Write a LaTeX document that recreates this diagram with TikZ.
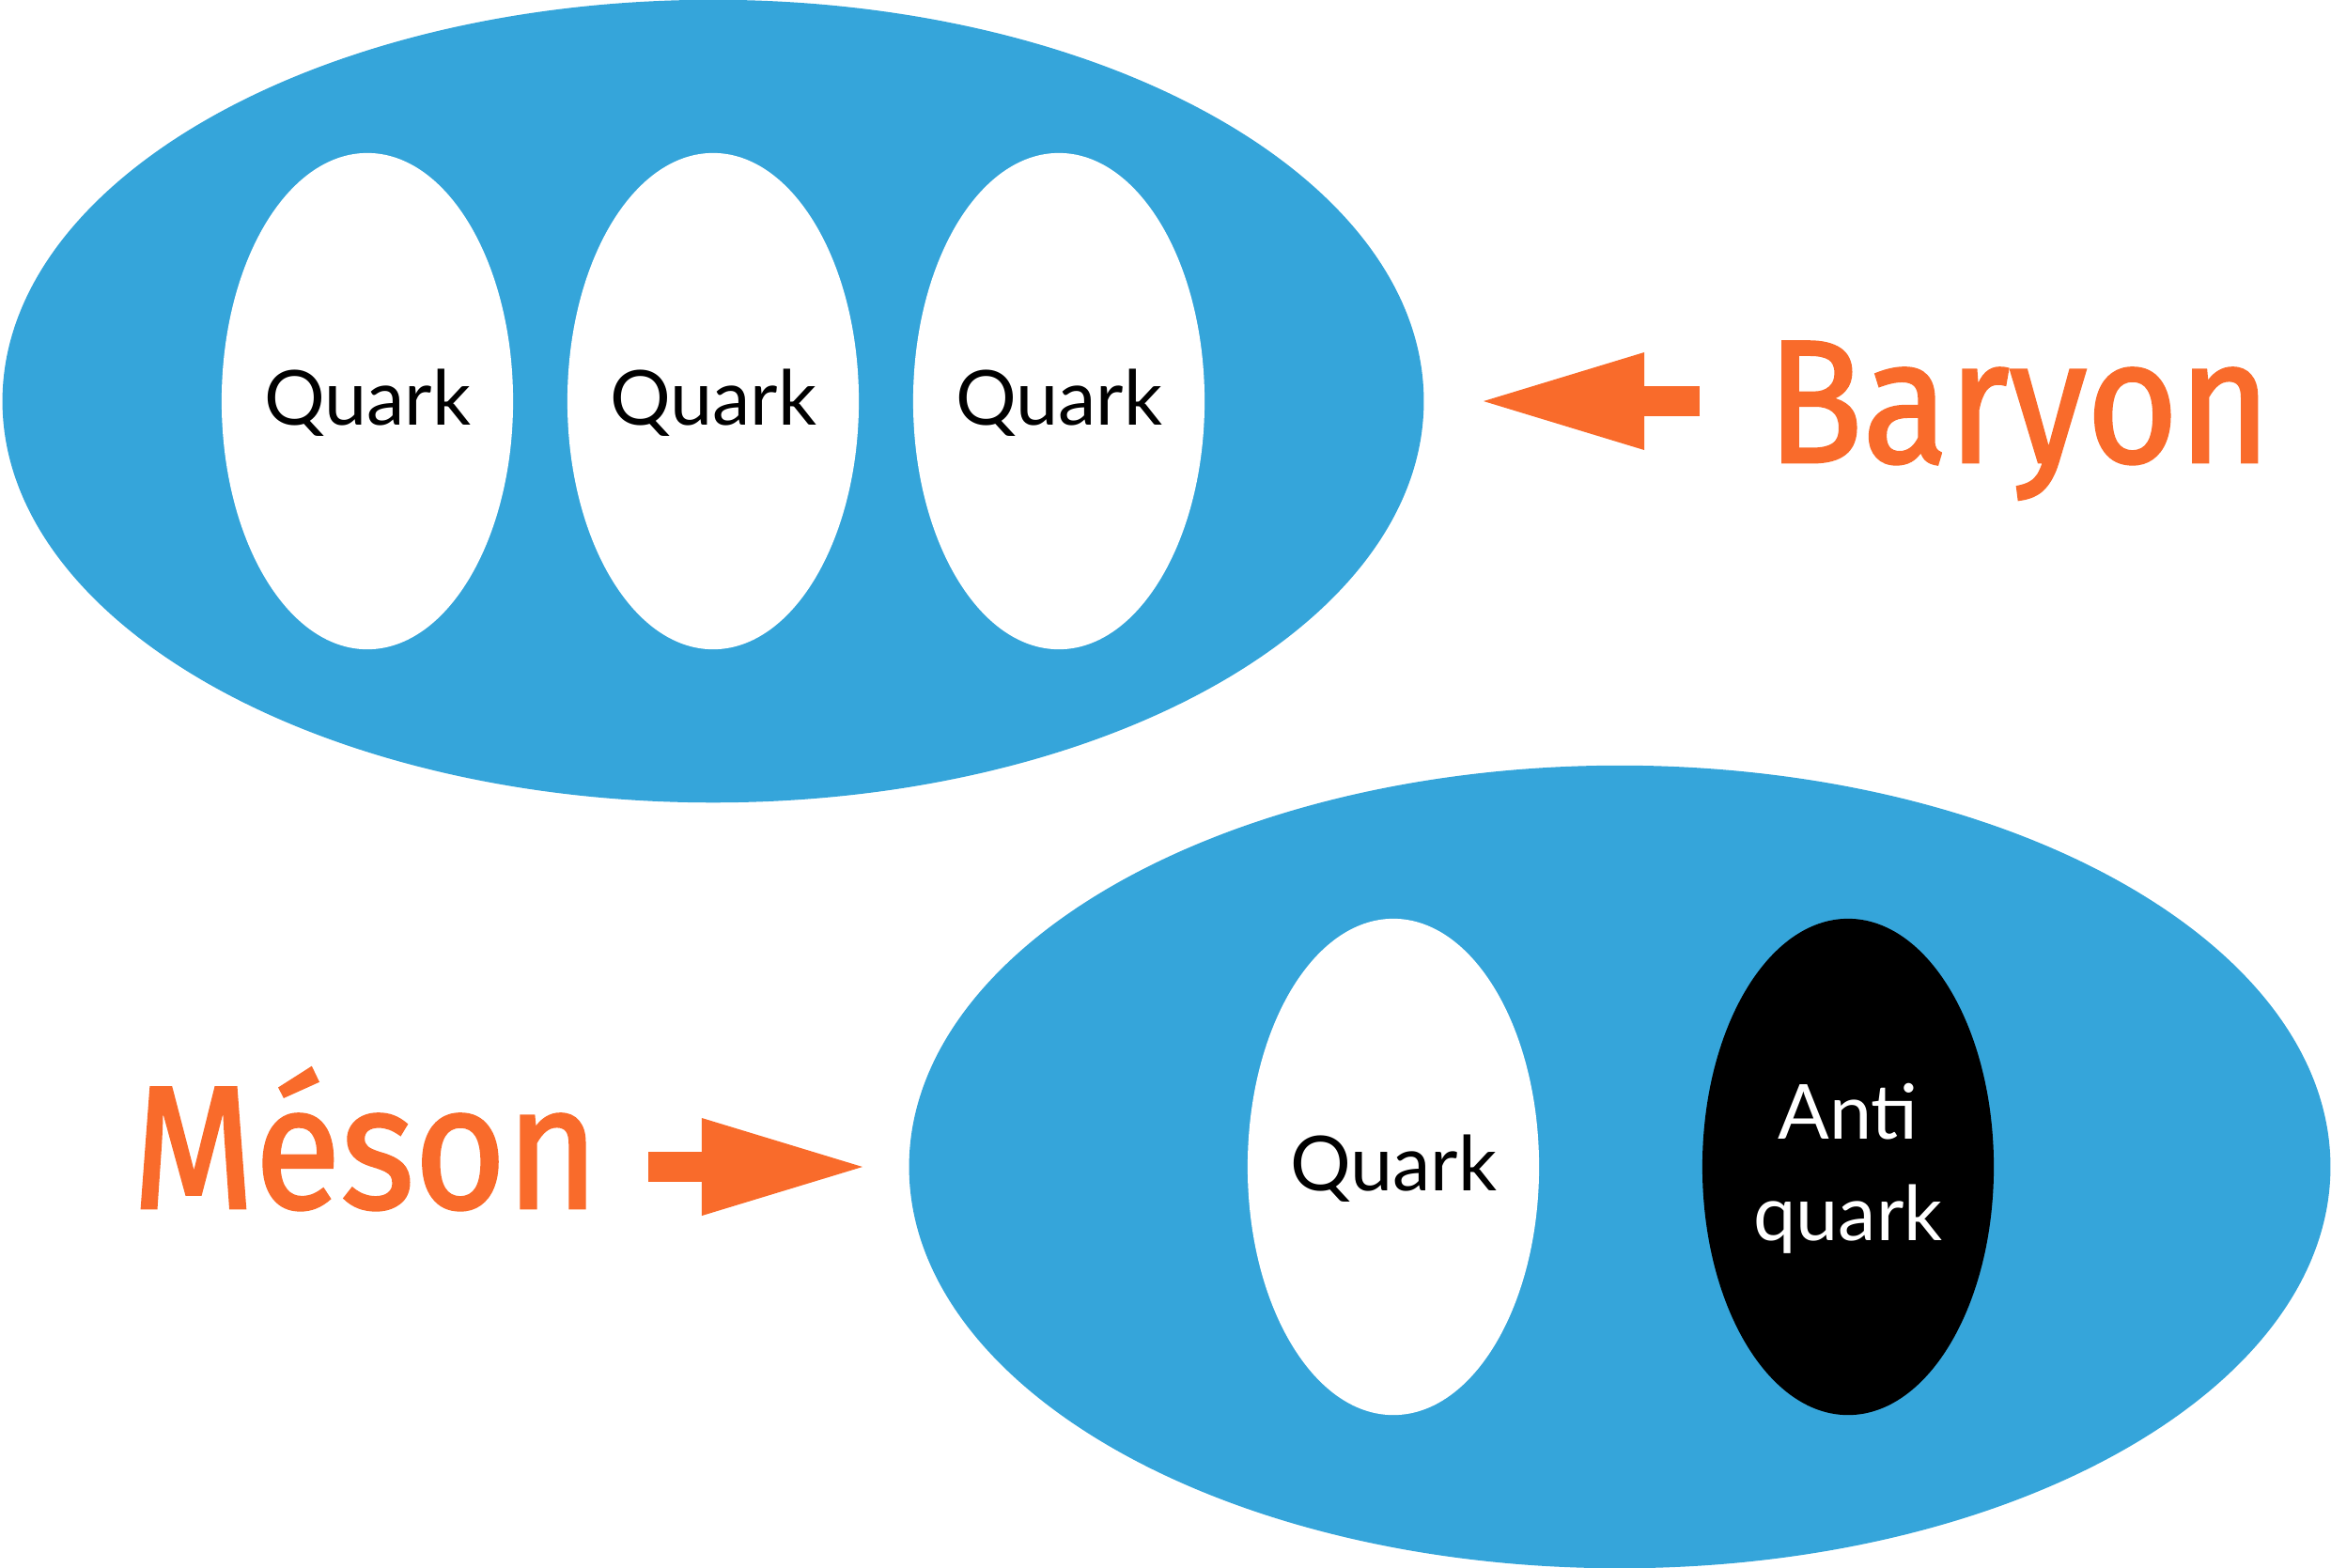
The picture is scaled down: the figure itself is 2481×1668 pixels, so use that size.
\documentclass[tikz,border=0pt]{standalone}
\usepackage{fontspec}
\setmainfont{Lato}
\newfontfamily\labelfont[FakeStretch=0.9,FakeBold=1.5]{Fira Sans}
\usetikzlibrary{shapes.geometric,arrows.meta}
\definecolor{hblue}{HTML}{35A5DA}
\definecolor{horange}{HTML}{F96B2B}
\tikzset{
  hadron/.style={ellipse, fill=hblue, minimum width=15.12cm, minimum height=8.54cm, inner sep=0pt},
  quark/.style={ellipse, fill=white, minimum width=3.1cm, minimum height=5.28cm, inner sep=0pt},
  antiquark/.style={ellipse, fill=black, minimum width=3.1cm, minimum height=5.28cm, inner sep=0pt},
  qtext/.style={anchor=base, inner sep=0pt, font=\fontsize{23}{28}\selectfont},
  bigtext/.style={anchor=base west, inner sep=0pt, text=horange, font=\labelfont\fontsize{53}{60}\selectfont},
  fatarrow/.style={draw=horange, line width=0.32cm, -{Triangle[length=1.71cm,width=1.04cm,line width=0pt,fill=horange]}}
}
\begin{document}
\begin{tikzpicture}[x=0.01cm,y=-0.01cm]
\useasboundingbox (0,0) rectangle (2481,1668);
% Baryon
\node[hadron] (baryon) at (759,427) {};
\node[quark] (q1) at (391,427) {};
\node[quark] (q2) at (759,427) {};
\node[quark] (q3) at (1127,427) {};
\node[qtext] (t1) at (391,452) {Quark};
\node[qtext] (t2) at (759,452) {Quark};
\node[qtext] (t3) at (1127,452) {Quark};
\node[bigtext] (blabel) at (1880,492) {Baryon};
\coordinate (btail) at (1809,427);
\coordinate (btip) at (1579,427);
\draw[fatarrow] (btail) -- (btip);
% Meson
\node[hadron] (meson) at (1724,1242) {};
\node[quark] (q4) at (1483,1242) {};
\node[antiquark] (aq) at (1967,1242) {};
\node[qtext] (t4) at (1483,1267) {Quark};
\node[qtext, text=white] (t5) at (1967,1212) {Anti};
\node[qtext, text=white] (t6) at (1967,1320) {quark};
\node[bigtext] (mlabel) at (140,1286) {Méson};
\coordinate (mtail) at (690,1242);
\coordinate (mtip) at (918,1242);
\draw[fatarrow] (mtail) -- (mtip);
\end{tikzpicture}
\end{document}
